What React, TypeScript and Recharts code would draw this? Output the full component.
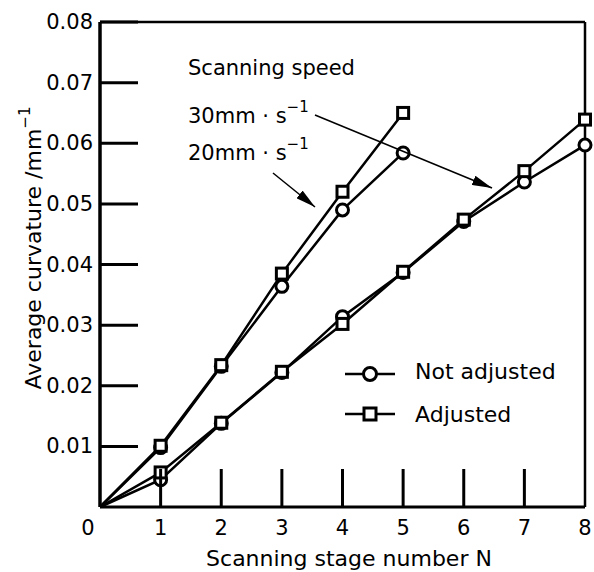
import { Line, LineChart, ReferenceLine, XAxis, YAxis } from "recharts";

const stages = [0, 1, 2, 3, 4, 5, 6, 7, 8];
const fastAdjusted = [0, 0.0101, 0.0234, 0.0385, 0.052, 0.065];
const fastNotAdjusted = [0, 0.0098, 0.0232, 0.0364, 0.049, 0.0584];
const slowAdjusted = [0, 0.0057, 0.0139, 0.0223, 0.0302, 0.0388, 0.0474, 0.0554, 0.0639];
const slowNotAdjusted = [0, 0.0045, 0.0138, 0.0222, 0.0314, 0.0387, 0.0471, 0.0536, 0.0597];
const yTicks = [0.01, 0.02, 0.03, 0.04, 0.05, 0.06, 0.07, 0.08];

const data = stages.map((n, i) => ({
  n,
  fastA: fastAdjusted[i],
  fastN: fastNotAdjusted[i],
  slowA: slowAdjusted[i],
  slowN: slowNotAdjusted[i],
}));

const FONT = "'DejaVu Sans', sans-serif";

function SquareDot(props: any) {
  const { cx, cy, payload, index } = props;
  if (cx == null || cy == null || payload.n === 0) return <g key={"s" + index} />;
  return (
    <rect
      key={"s" + index}
      x={cx - 5.5}
      y={cy - 5.5}
      width={11}
      height={11}
      fill="#fff"
      stroke="#000"
      strokeWidth={3}
    />
  );
}

function CircleDot(props: any) {
  const { cx, cy, payload, index } = props;
  if (cx == null || cy == null || payload.n === 0) return <g key={"c" + index} />;
  return <circle key={"c" + index} cx={cx} cy={cy} r={6} fill="#fff" stroke="#000" strokeWidth={3} />;
}

function YTick(props: any) {
  const { x, y, payload } = props;
  return (
    <g>
      <line x1={x} x2={x + 38} y1={y} y2={y} stroke="#000" strokeWidth={3} />
      <text x={x - 7} y={y} textAnchor="end" dominantBaseline="central" fontFamily={FONT} fontSize={21} fill="#000">
        {payload.value.toFixed(2)}
      </text>
    </g>
  );
}

function XTick(props: any) {
  const { x, y, payload } = props;
  const v = payload.value;
  return (
    <g>
      {v > 0 && v < 8 && <line x1={x} x2={x} y1={y} y2={y - 38} stroke="#000" strokeWidth={3} />}
      <text x={v === 0 ? x - 12 : x} y={y + 21} textAnchor="middle" dominantBaseline="central" fontFamily={FONT} fontSize={21} fill="#000">
        {v}
      </text>
    </g>
  );
}

export default function App() {
  return (
    <div style={{ position: "absolute", left: 0, top: 0, width: 594, height: 572, background: "#fff" }}>
      <LineChart width={594} height={572} data={data} margin={{ top: 22, right: 9, bottom: 0, left: 0 }}>
        <XAxis
          dataKey="n"
          type="number"
          domain={[0, 8]}
          ticks={stages}
          tickSize={0}
          tickMargin={0}
          tickLine={false}
          height={65}
          axisLine={{ stroke: "#000", strokeWidth: 3 }}
          tick={<XTick />}
        />
        <YAxis
          type="number"
          domain={[0, 0.08]}
          ticks={yTicks}
          tickSize={0}
          tickMargin={0}
          tickLine={false}
          width={100}
          axisLine={{ stroke: "#000", strokeWidth: 3.5 }}
          tick={<YTick />}
        />
        <ReferenceLine y={0.08} stroke="#000" strokeWidth={2.5} />
        <ReferenceLine x={8} stroke="#000" strokeWidth={2.5} />
        <Line dataKey="slowN" stroke="#000" strokeWidth={2.5} dot={CircleDot} isAnimationActive={false} />
        <Line dataKey="fastN" stroke="#000" strokeWidth={2.5} dot={CircleDot} isAnimationActive={false} />
        <Line dataKey="slowA" stroke="#000" strokeWidth={2.5} dot={SquareDot} isAnimationActive={false} />
        <Line dataKey="fastA" stroke="#000" strokeWidth={2.5} dot={SquareDot} isAnimationActive={false} />
      </LineChart>
      <svg
        width={594}
        height={572}
        style={{ position: "absolute", left: 0, top: 0, pointerEvents: "none" }}
        fontFamily={FONT}
        fill="#000"
      >
        <defs>
          <marker id="head" viewBox="0 0 20 10" refX={20} refY={5} markerWidth={20} markerHeight={10} markerUnits="userSpaceOnUse" orient="auto">
            <path d="M0,0 L20,5 L0,10 Z" fill="#000" />
          </marker>
        </defs>
        <text x={188} y={75} fontSize={21}>Scanning speed</text>
        <text x={188} y={123} fontSize={21}>
          30mm · s<tspan dy={-11} fontSize={15}>−1</tspan>
        </text>
        <text x={188} y={160} fontSize={21}>
          20mm · s<tspan dy={-11} fontSize={15}>−1</tspan>
        </text>
        <line x1={273} y1={173} x2={315} y2={207} stroke="#000" strokeWidth={1.5} markerEnd="url(#head)" />
        <line x1={315} y1={115} x2={492} y2={188} stroke="#000" strokeWidth={1.5} markerEnd="url(#head)" />

        <line x1={345} x2={395} y1={374} y2={374} stroke="#000" strokeWidth={2.5} />
        <circle cx={370} cy={374} r={6.5} fill="#fff" stroke="#000" strokeWidth={3} />
        <text x={415} y={379} fontSize={22}>Not adjusted</text>
        <line x1={345} x2={395} y1={414} y2={414} stroke="#000" strokeWidth={2.5} />
        <rect x={364} y={408} width={12} height={12} fill="#fff" stroke="#000" strokeWidth={3} />
        <text x={415} y={422} fontSize={22}>Adjusted</text>

        <text x={349} y={566} fontSize={22} textAnchor="middle">Scanning stage number N</text>
        <text transform="translate(41,248) rotate(-90)" fontSize={22} textAnchor="middle">
          Average curvature /mm<tspan dy={-11} fontSize={15}>−1</tspan>
        </text>
      </svg>
    </div>
  );
}
